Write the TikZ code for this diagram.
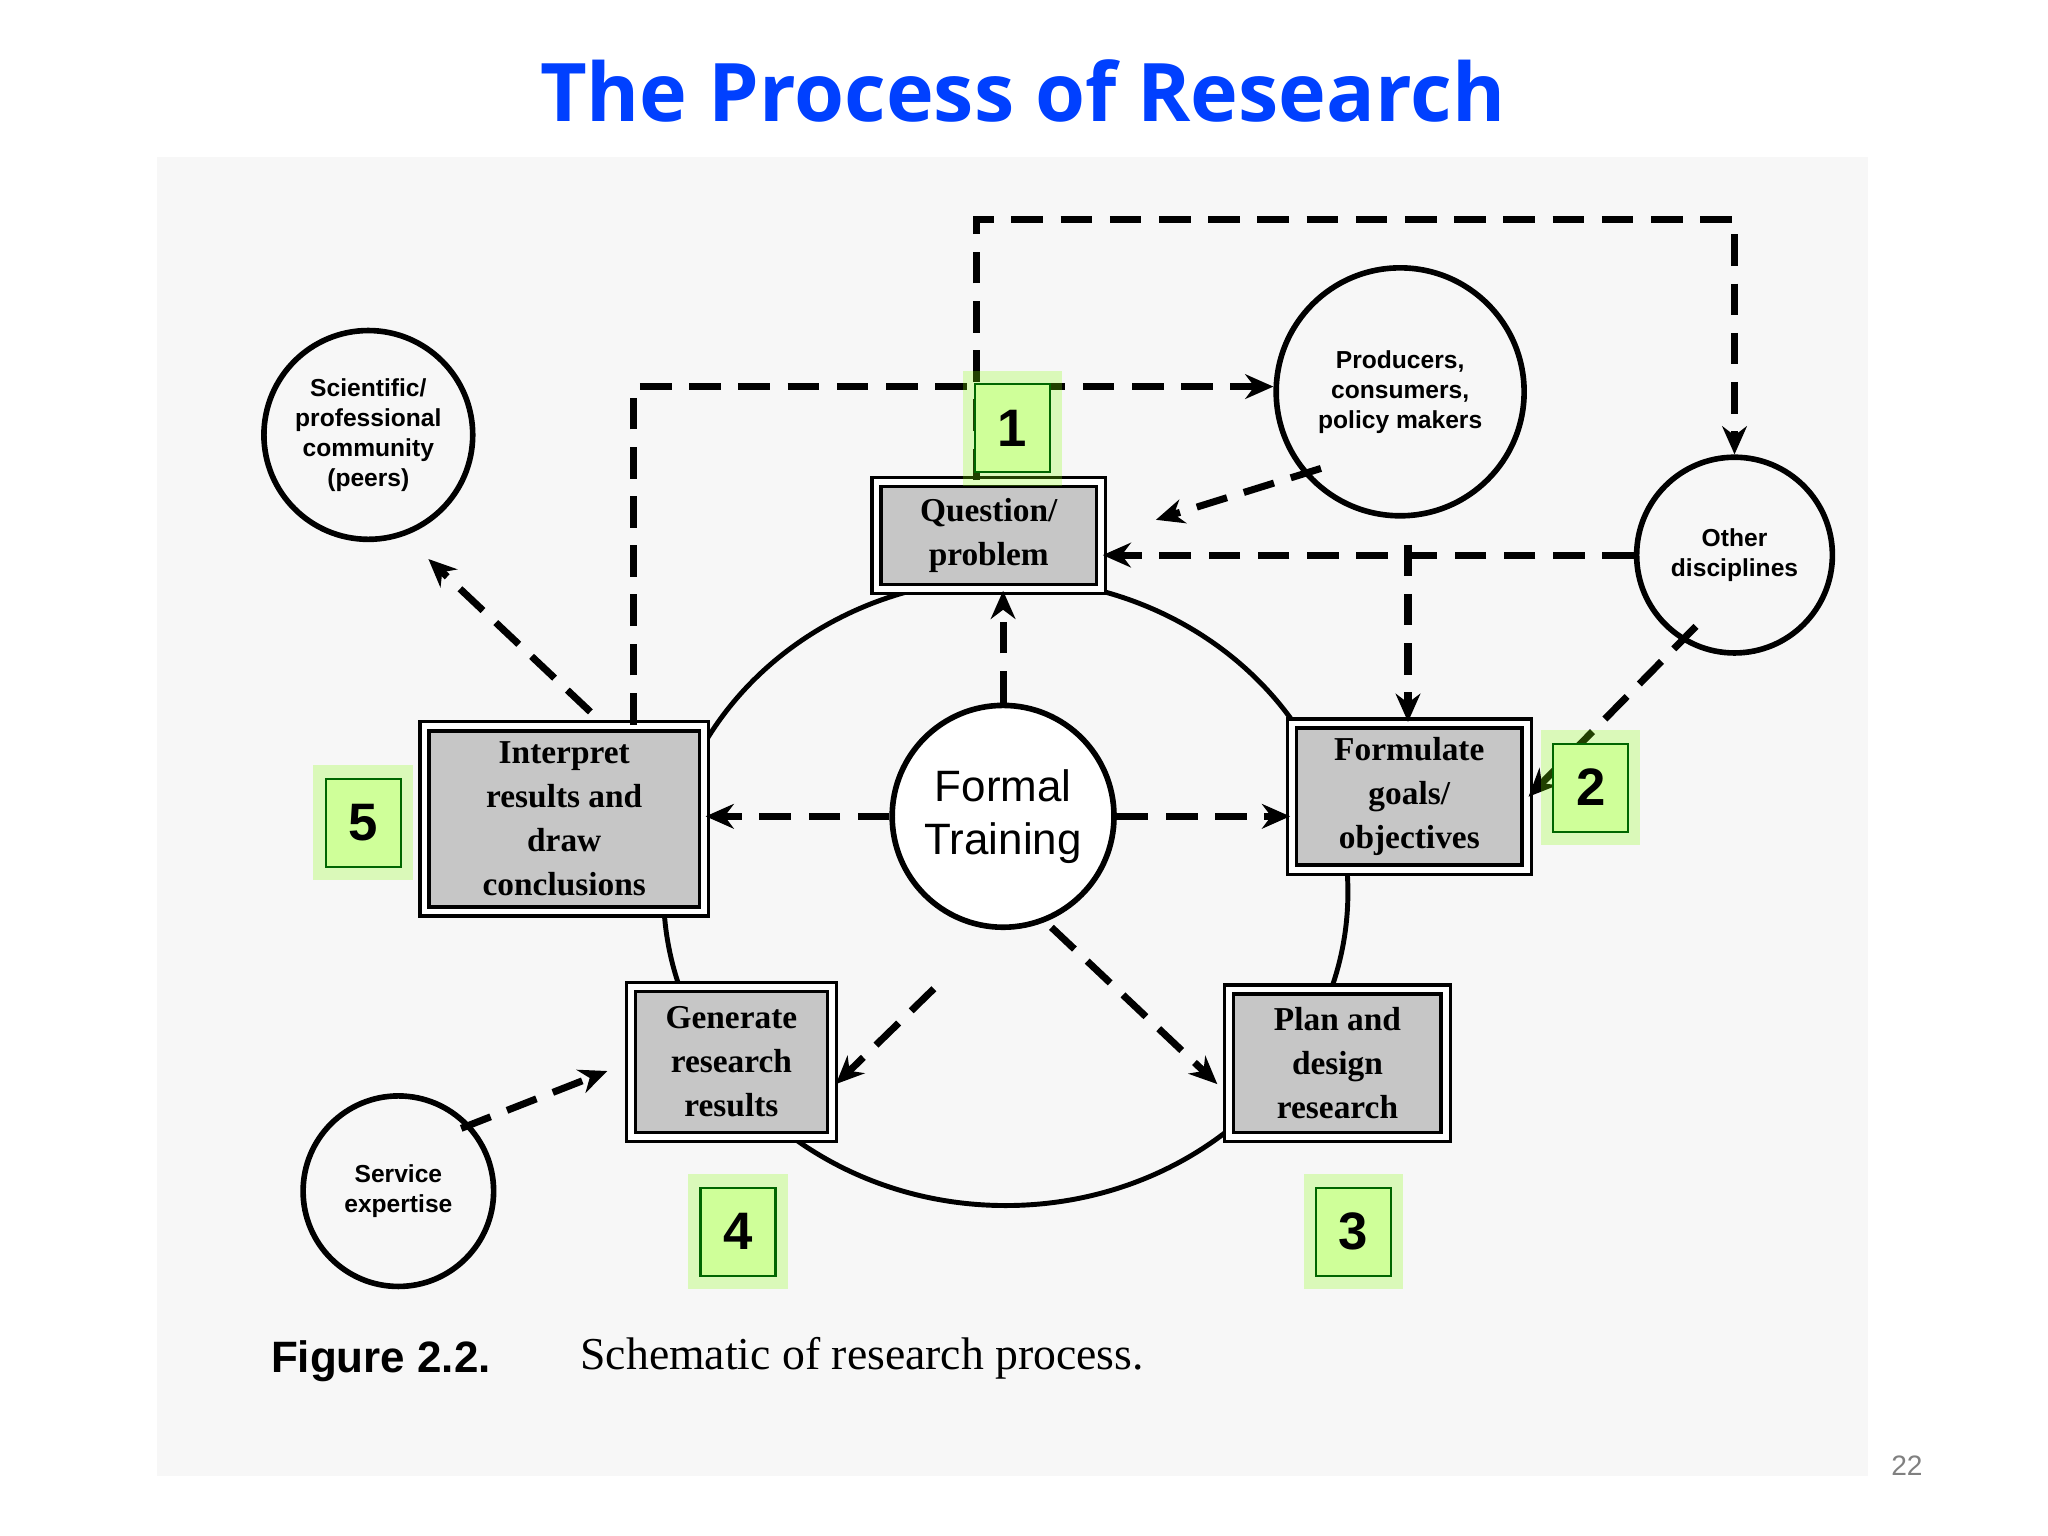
\documentclass[tikz,border=0pt]{standalone}
\usepackage{fontspec}
\setmainfont{Liberation Serif}
\newfontfamily\mysf{Liberation Sans}
\newfontfamily\myttl{Open Sans}
\usetikzlibrary{arrows.meta}
\begin{document}
\begin{tikzpicture}[x=0.01306cm,y=-0.01306cm,
 circ/.style={draw,line width=1.6pt,circle,align=center,font=\mysf\bfseries\fontsize{7}{8.5}\selectfont,inner sep=0},
 box/.style={draw,double,double distance=1.6pt,line width=1pt,fill=gray!45,align=center,font=\bfseries\fontsize{9.5}{12.5}\selectfont,inner sep=0},
 da/.style={line width=2pt,dash pattern=on 9pt off 5pt,-{Stealth[length=8pt,width=7pt]}},
 badge/.style={draw=green!40!black,line width=0.6pt,fill=green!30!lime!40,inner sep=0,font=\mysf\bfseries\fontsize{15}{15}\selectfont,minimum width=0.75cm,minimum height=0.88cm}]
\useasboundingbox (0,0) rectangle (1568,1176);
\fill[white] (0,0) rectangle (1568,1176);
\fill[gray!6] (120,120) rectangle (1430,1130);
\node[font=\myttl\bfseries\fontsize{23}{26}\selectfont,text=blue!75!cyan] (title) at (783,70) {The Process of Research};
% big ring
\draw[line width=1.4pt] (770,683) ellipse [x radius=262,y radius=240];
% circles
\node[circ,minimum size=160*0.3713pt] (sci) at (282,333) {Scientific/\\professional\\community\\(peers)};
\node[circ,minimum size=190*0.3713pt] (prod) at (1072,300) {Producers,\\consumers,\\policy makers};
\node[circ,minimum size=150*0.3713pt] (oth) at (1328,425) {Other\\disciplines};
\node[circ,minimum size=170*0.3713pt,fill=white,font=\mysf\fontsize{12.5}{15}\selectfont] (ft) at (768,625) {Formal\\Training};
\node[circ,minimum size=146*0.3713pt] (ser) at (305,912) {Service\\expertise};
% boxes
\node[box,minimum width=172*0.3713pt,minimum height=82*0.3713pt] (q) at (757,410) {Question/\\problem};
\node[box,minimum width=214*0.3713pt,minimum height=142*0.3713pt] (int) at (432,627) {Interpret\\results and\\draw\\conclusions};
\node[box,minimum width=180*0.3713pt,minimum height=112*0.3713pt] (form) at (1079,610) {Formulate\\goals/\\objectives};
\node[box,minimum width=154*0.3713pt,minimum height=115*0.3713pt] (gen) at (560,813) {Generate\\research\\results};
\node[box,minimum width=166*0.3713pt,minimum height=113*0.3713pt] (plan) at (1024,814) {Plan and\\design\\research};
% coordinates
\coordinate (c1) at (748,168); \coordinate (c2) at (1328,168);
\coordinate (c3) at (485,296);
\coordinate (c4) at (1078,417);
% dashed connectors
\draw[da] (q.north -| c1) -- (c1) -- (c2) -- (oth.north);
\draw[da] (int.north -| c3) -- (c3) -- (prod.west |- c3) ;
\draw[da] (prod.south west) ++(8,-10) -- (885,398);
\draw[da] (oth.west) -- (q.east |- oth.west);
\draw[da] (c4) -- (form.north -| c4);
\draw[da] (oth.south west) ++(25,0) -- (form.east);
\draw[da] (ft.north) -- (q.south -| ft.north);
\draw[da] (ft.west) -- (int.east |- ft.west);
\draw[da] (ft.east) -- (form.west |- ft.east);
\draw[da] (715,757) -- (640,830);
\draw[da] (805,710) -- (932,830);
\draw[da] (452,545) -- (328,428);
\draw[da] (ser.north east) ++(-5,5) -- (465,820);
% badges
\foreach \n/\x/\y in {1/775/328,2/1218/603,3/1036/943,4/565/943,5/278/630}{
 \fill[green!30!lime,opacity=0.25] (\x-38,\y-44) rectangle (\x+38,\y+44);
 \node[badge] (b\n) at (\x,\y) {\n};}
\node[anchor=west,font=\mysf\bfseries\fontsize{12.5}{14}\selectfont] (fig) at (198,1042) {Figure 2.2.};
\node[anchor=west,font=\fontsize{13}{15}\selectfont] (cap) at (435,1040) {Schematic of research process.};
\node[font=\mysf\fontsize{8}{9}\selectfont,text=gray] (pg) at (1460,1122) {22};
\end{tikzpicture}
\end{document}
